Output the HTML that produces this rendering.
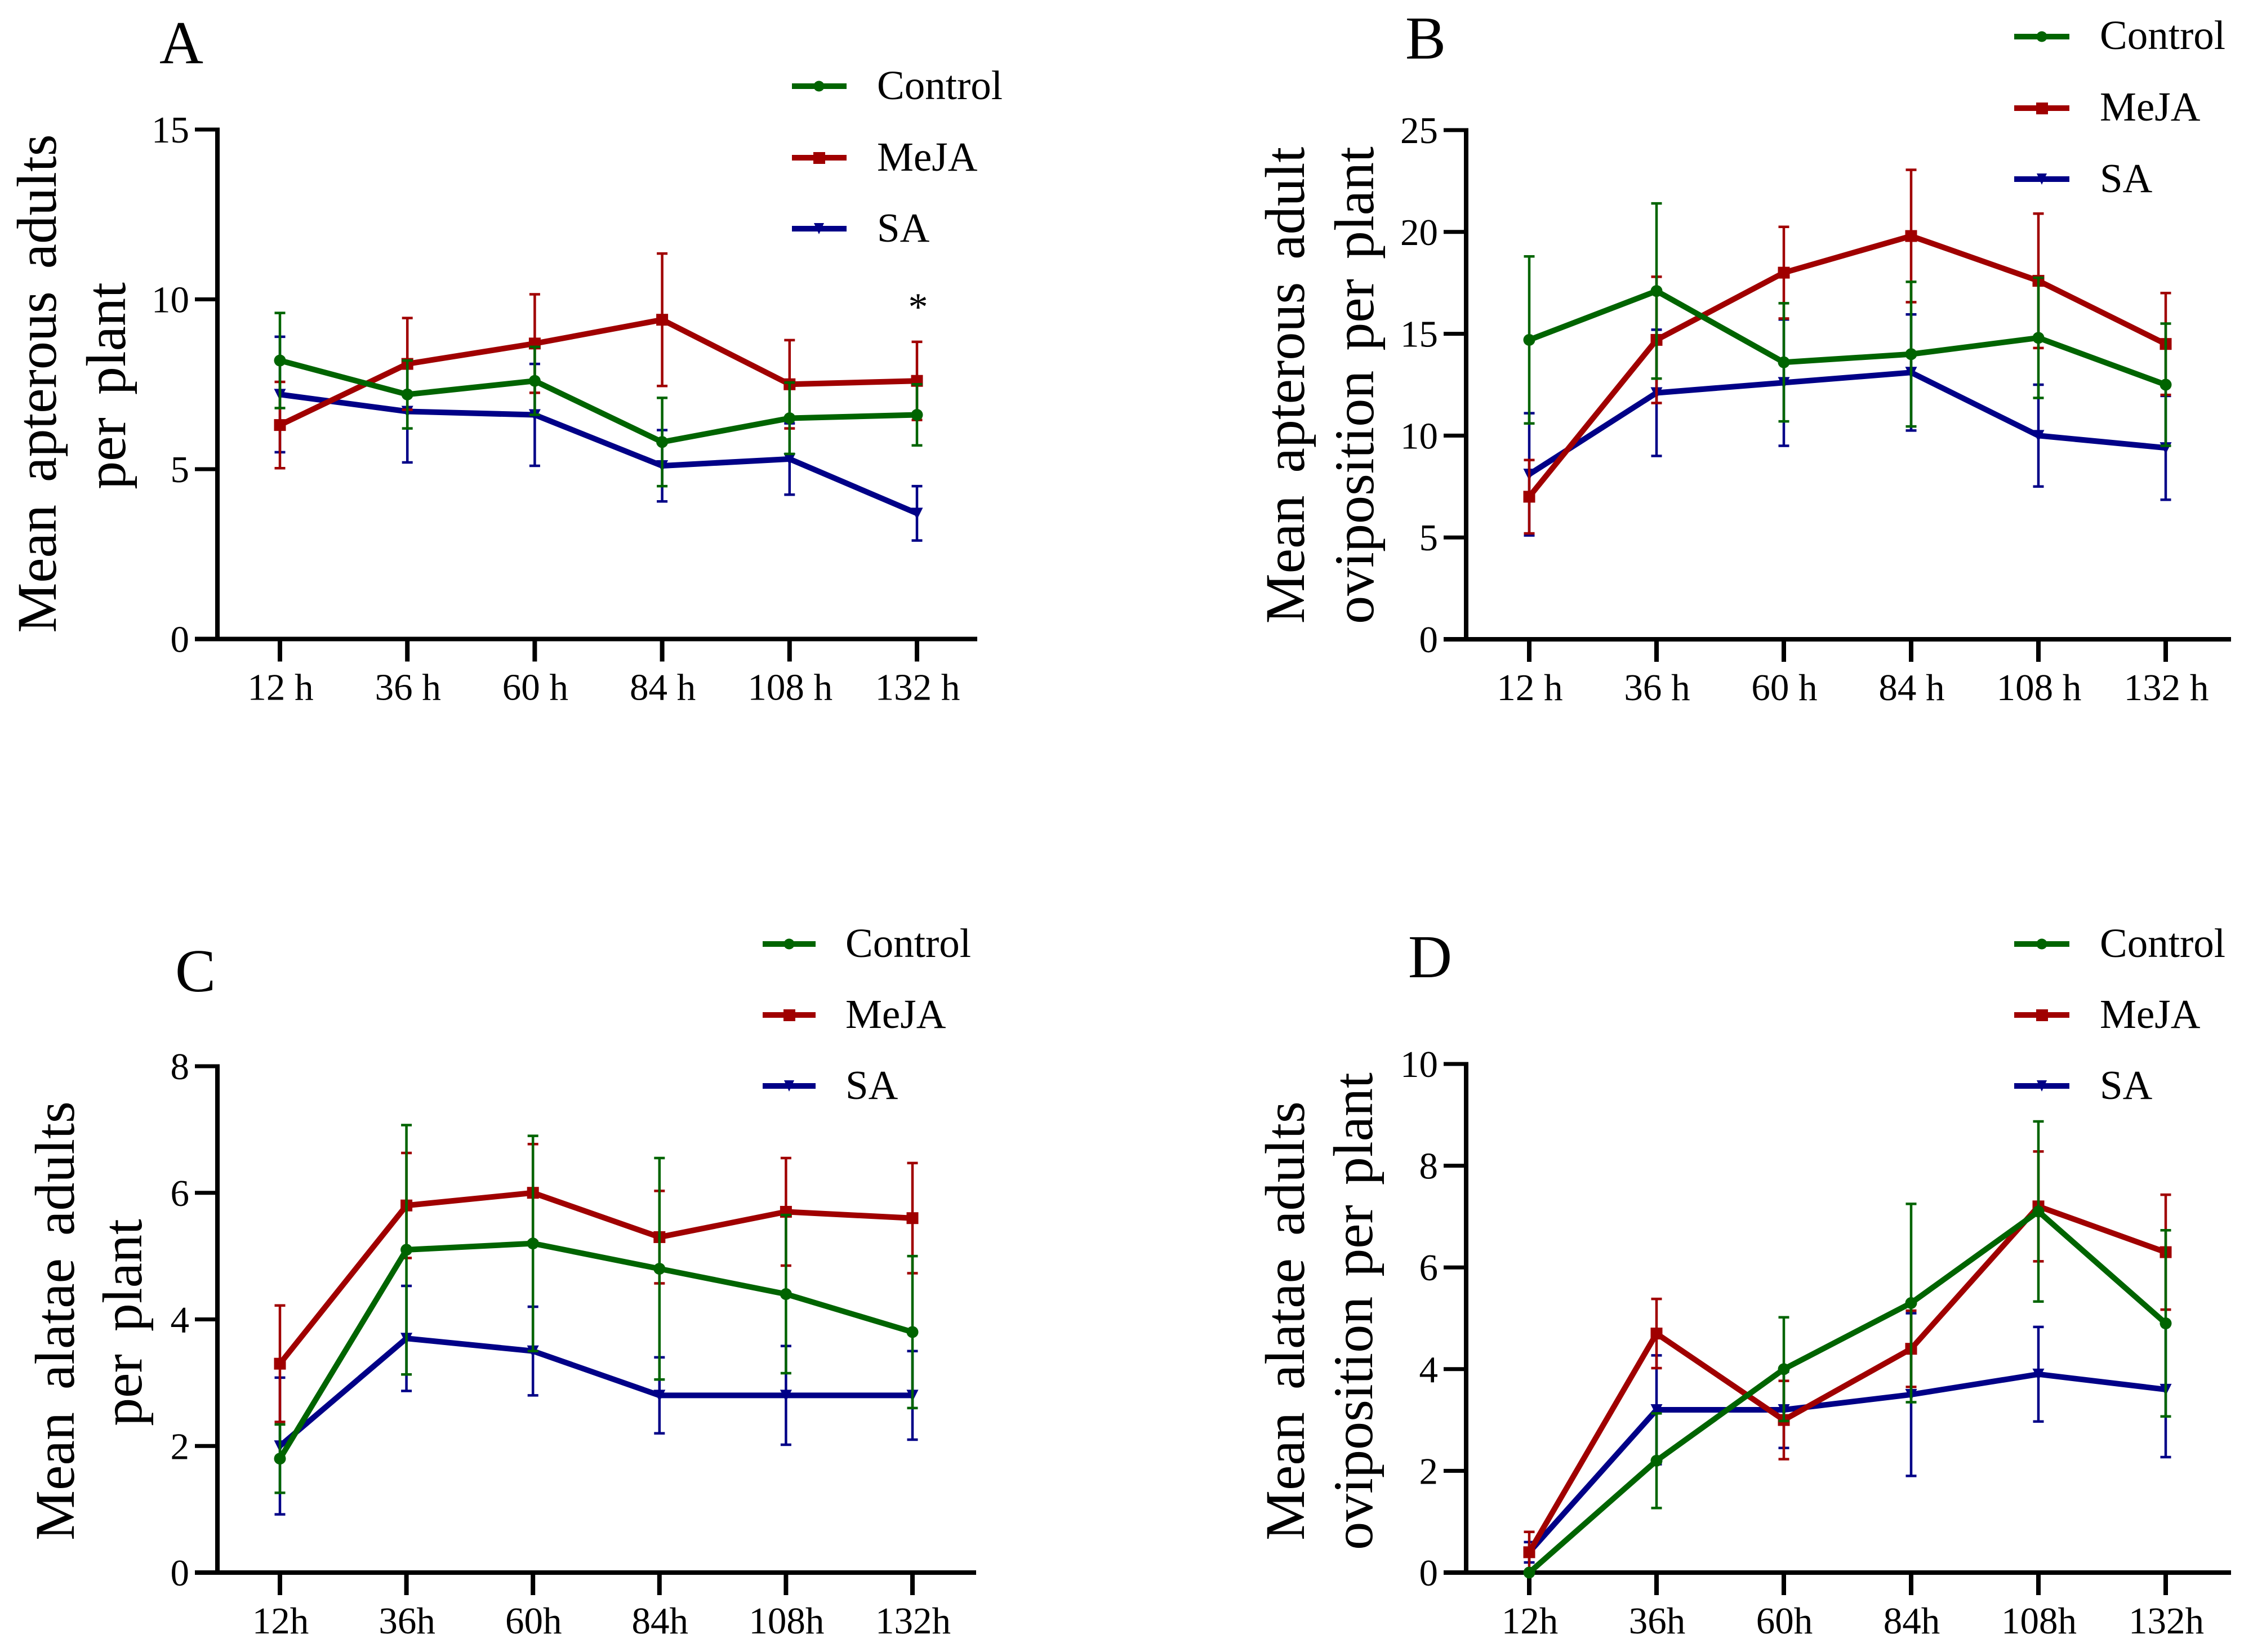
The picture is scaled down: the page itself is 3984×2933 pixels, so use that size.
<!DOCTYPE html>
<html><head><meta charset="utf-8"><title>Aphid response charts</title>
<style>
html,body{margin:0;padding:0;background:#fff}
svg{display:block}
text{font-family:"Liberation Serif",serif;fill:#000}
.title{font-size:100px;text-anchor:middle;word-spacing:15px}
.title.tight{word-spacing:10px}
.leg{font-size:73px}
.letter{font-size:108px}
.tick{font-size:67px}
</style></head>
<body>
<svg id="fig" xmlns="http://www.w3.org/2000/svg" width="3984" height="2933" viewBox="0 0 3984 2933">
<rect width="3984" height="2933" fill="#fff"/>
<g id="panel-a">
<text class="letter" x="283" y="112">A</text>
<text class="title" transform="translate(99,681) rotate(-90)">Mean apterous adults</text>
<text class="title" transform="translate(222,685) rotate(-90)">per plant</text>
<text x="1630" y="568" font-size="70" text-anchor="middle">*</text>
<g>
<g><line x1="1406" x2="1503" y1="153" y2="153" stroke="#006400" stroke-width="10"/><circle cx="1454" cy="153" r="9.5" fill="#006400"/><text class="leg" x="1557" y="176">Control</text></g>
<g><line x1="1406" x2="1503" y1="280" y2="280" stroke="#a00000" stroke-width="10"/><rect x="1444" y="270" width="21" height="21" fill="#a00000"/><text class="leg" x="1557" y="303">MeJA</text></g>
<g><line x1="1406" x2="1503" y1="406" y2="406" stroke="#000087" stroke-width="10"/><polygon points="1445,396 1463,396 1454,416" fill="#000087"/><text class="leg" x="1557" y="429">SA</text></g>
</g></g>
<g id="panel-b">
<text class="letter" x="2495" y="104">B</text>
<text class="title" transform="translate(2315,684) rotate(-90)">Mean apterous adult</text>
<text class="title tight" transform="translate(2438,684) rotate(-90)">oviposition per plant</text>
<g>
<g><line x1="3576" x2="3674" y1="65" y2="65" stroke="#006400" stroke-width="10"/><circle cx="3625" cy="65" r="9.5" fill="#006400"/><text class="leg" x="3728" y="87">Control</text></g>
<g><line x1="3576" x2="3674" y1="192" y2="192" stroke="#a00000" stroke-width="10"/><rect x="3615" y="182" width="21" height="21" fill="#a00000"/><text class="leg" x="3728" y="214">MeJA</text></g>
<g><line x1="3576" x2="3674" y1="318" y2="318" stroke="#000087" stroke-width="10"/><polygon points="3616,308 3634,308 3625,328" fill="#000087"/><text class="leg" x="3728" y="341">SA</text></g>
</g></g>
<g id="panel-c">
<text class="letter" x="311" y="1760">C</text>
<text class="title" transform="translate(131,2345) rotate(-90)">Mean alatae adults</text>
<text class="title" transform="translate(251,2348) rotate(-90)">per plant</text>
<g>
<g><line x1="1354" x2="1448" y1="1676" y2="1676" stroke="#006400" stroke-width="10"/><circle cx="1401" cy="1676" r="9.5" fill="#006400"/><text class="leg" x="1501" y="1699">Control</text></g>
<g><line x1="1354" x2="1448" y1="1802" y2="1802" stroke="#a00000" stroke-width="10"/><rect x="1391" y="1792" width="21" height="21" fill="#a00000"/><text class="leg" x="1501" y="1825">MeJA</text></g>
<g><line x1="1354" x2="1448" y1="1928" y2="1928" stroke="#000087" stroke-width="10"/><polygon points="1392,1918 1410,1918 1401,1938" fill="#000087"/><text class="leg" x="1501" y="1951">SA</text></g>
</g></g>
<g id="panel-d">
<text class="letter" x="2500" y="1735">D</text>
<text class="title" transform="translate(2315,2345) rotate(-90)">Mean alatae adults</text>
<text class="title tight" transform="translate(2436,2328) rotate(-90)">oviposition per plant</text>
<g>
<g><line x1="3576" x2="3674" y1="1676" y2="1676" stroke="#006400" stroke-width="10"/><circle cx="3625" cy="1676" r="9.5" fill="#006400"/><text class="leg" x="3728" y="1699">Control</text></g>
<g><line x1="3576" x2="3674" y1="1802" y2="1802" stroke="#a00000" stroke-width="10"/><rect x="3615" y="1792" width="21" height="21" fill="#a00000"/><text class="leg" x="3728" y="1825">MeJA</text></g>
<g><line x1="3576" x2="3674" y1="1928" y2="1928" stroke="#000087" stroke-width="10"/><polygon points="3616,1918 3634,1918 3625,1938" fill="#000087"/><text class="leg" x="3728" y="1951">SA</text></g>
</g></g>
</svg>
<script>
// Data
const hoursSpaced = ["12 h","36 h","60 h","84 h","108 h","132 h"];
const hoursTight = ["12h","36h","60h","84h","108h","132h"];
const ticksA = [0,5,10,15];
const ticksB = [0,5,10,15,20,25];
const ticksC = [0,2,4,6,8];
const ticksD = [0,2,4,6,8,10];

const controlA = [8.2,7.2,7.6,5.8,6.5,6.6];
const controlAErr = [1.4,1.0,1.0,1.3,1.05,0.9];
const mejaA = [6.3,8.1,8.7,9.4,7.5,7.6];
const mejaAErr = [1.27,1.35,1.45,1.95,1.3,1.15];
const saA = [7.2,6.7,6.6,5.1,5.3,3.7];
const saAErr = [1.7,1.5,1.5,1.05,1.05,0.8];

const controlB = [14.7,17.1,13.6,14.0,14.8,12.5];
const controlBErr = [4.1,4.3,2.9,3.55,2.95,3.0];
const mejaB = [7.0,14.7,18.0,19.8,17.6,14.5];
const mejaBErr = [1.8,3.1,2.25,3.25,3.3,2.5];
const saB = [8.1,12.1,12.6,13.1,10.0,9.4];
const saBErr = [3.0,3.1,3.1,2.85,2.5,2.55];

const controlC = [1.8,5.1,5.2,4.8,4.4,3.8];
const controlCErr = [0.54,1.97,1.7,1.75,1.25,1.2];
const mejaC = [3.3,5.8,6.0,5.3,5.7,5.6];
const mejaCErr = [0.92,0.83,0.77,0.73,0.85,0.87];
const saC = [2.0,3.7,3.5,2.8,2.8,2.8];
const saCErr = [1.08,0.83,0.7,0.6,0.78,0.7];

const controlD = [0,2.2,4.0,5.3,7.1,4.9];
const controlDErr = [0,0.93,1.02,1.95,1.77,1.83];
const mejaD = [0.4,4.7,3.0,4.4,7.2,6.3];
const mejaDErr = [0.4,0.68,0.77,0.75,1.08,1.13];
const saD = [0.4,3.2,3.2,3.5,3.9,3.6];
const saDErr = [0.2,1.07,0.75,1.6,0.93,1.33];

const NS = "http://www.w3.org/2000/svg";
const GREEN = "#006400", RED = "#a00000", BLUE = "#000087";

function mk(parent, tag, attrs, text) {
  const el = document.createElementNS(NS, tag);
  for (const k in attrs) el.setAttribute(k, attrs[k]);
  if (text !== undefined) el.textContent = text;
  parent.appendChild(el);
  return el;
}

function drawPanel(id, geo, cats, ticks, yMax, series) {
  const root = document.getElementById(id);
  const sx = i => geo.x0 + i * (geo.x5 - geo.x0) / (cats.length - 1);
  const sy = v => geo.yZero - v * (geo.yZero - geo.yTop) / yMax;

  const axes = mk(root, "g", {});
  
  

  const yAxis = mk(axes, "line", {x1: geo.axisX, x2: geo.axisX, y1: sy(yMax) - 3.5, y2: geo.yZero + 3, stroke: "#000", "stroke-width": 8});
  
  
  const xAxis = mk(axes, "line", {x1: geo.axisX - 40, x2: geo.xEnd, y1: geo.yZero, y2: geo.yZero, stroke: "#000", "stroke-width": 8});
  
  

  ticks.forEach(t => {
    const tk = mk(axes, "line", {x1: geo.axisX - 40, x2: geo.axisX, y1: sy(t), y2: sy(t), stroke: "#000", "stroke-width": 7});
    
    
    const lb = mk(axes, "text", {class: "tick", x: geo.axisX - 50, y: sy(t) + 23, "text-anchor": "end"}, String(t));
    
    
  });
  cats.forEach((c, i) => {
    const tk = mk(axes, "line", {x1: sx(i), x2: sx(i), y1: geo.yZero, y2: geo.yZero + 40, stroke: "#000", "stroke-width": 8});
    
    
    const lb = mk(axes, "text", {class: "tick", x: sx(i) + 1, y: geo.yZero + 108, "text-anchor": "middle"}, c);
    
    
  });

  series.forEach(s => {
    const g = mk(root, "g", {});
    
    
    s.values.forEach((v, i) => {
      const x = sx(i), top = sy(v + s.err[i]), bot = sy(v - s.err[i]);
      const eb = mk(g, "path", {d: `M${x - 9.5} ${top}H${x + 9.5}M${x} ${top}V${bot}M${x - 9.5} ${bot}H${x + 9.5}`, fill: "none", stroke: s.color, "stroke-width": 4.5});
      
      
    });
    const ln = mk(g, "polyline", {points: s.values.map((v, i) => sx(i) + "," + sy(v)).join(" "), fill: "none", stroke: s.color, "stroke-width": 10, "stroke-linejoin": "round"});
    
    
    s.values.forEach((v, i) => {
      const x = sx(i), y = sy(v);
      let m;
      if (s.shape === "circle") m = mk(g, "circle", {cx: x, cy: y, r: 10.5, fill: s.color});
      else if (s.shape === "square") m = mk(g, "rect", {x: x - 10.5, y: y - 10.5, width: 21, height: 21, fill: s.color});
      else m = mk(g, "polygon", {points: `${x - 10.5},${y - 10} ${x + 10.5},${y - 10} ${x},${y + 11}`, fill: s.color});
      
      
    });
  });
}

function trio(c, cE, m, mE, s, sE) {
  return [
    {name: "sa", color: BLUE, shape: "tri", values: s, err: sE},
    {name: "meja", color: RED, shape: "square", values: m, err: mE},
    {name: "control", color: GREEN, shape: "circle", values: c, err: cE}
  ];
}

drawPanel("panel-a", {axisX: 386, x0: 497, x5: 1628, xEnd: 1735, yZero: 1134.5, yTop: 230}, hoursSpaced, ticksA, 15, trio(controlA, controlAErr, mejaA, mejaAErr, saA, saAErr));
drawPanel("panel-b", {axisX: 2603, x0: 2715, x5: 3845, xEnd: 3961, yZero: 1135, yTop: 231}, hoursSpaced, ticksB, 25, trio(controlB, controlBErr, mejaB, mejaBErr, saB, saBErr));
drawPanel("panel-c", {axisX: 386, x0: 497, x5: 1620, xEnd: 1733, yZero: 2792, yTop: 1893}, hoursTight, ticksC, 8, trio(controlC, controlCErr, mejaC, mejaCErr, saC, saCErr));
drawPanel("panel-d", {axisX: 2603, x0: 2715, x5: 3845, xEnd: 3961, yZero: 2792, yTop: 1889}, hoursTight, ticksD, 10, trio(controlD, controlDErr, mejaD, mejaDErr, saD, saDErr));
</script>
</body></html>
